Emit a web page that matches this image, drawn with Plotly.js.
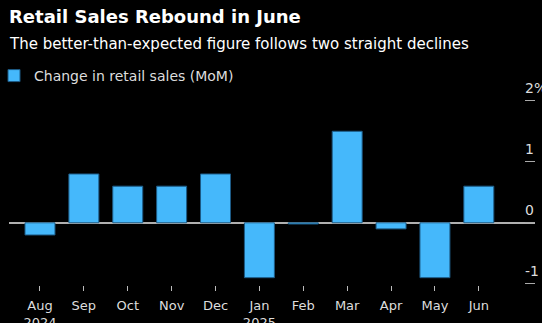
<!DOCTYPE html>
<html>
<head>
<meta charset="utf-8">
<script src="https://cdn.plot.ly/plotly-3.0.1.min.js"></script>
<style>
html,body{margin:0;padding:0;background:#000;}
#chart{width:542px;height:323px;}
</style>
</head>
<body>
<div id="chart"></div>
<script>
const months = ["Aug<br>2024","Sep","Oct","Nov","Dec","Jan<br>2025","Feb","Mar","Apr","May","Jun"];
const changeMoM = [-0.2, 0.8, 0.6, 0.6, 0.8, -0.9, -0.02, 1.5, -0.1, -0.9, 0.6];
const yTickVals = [-1, 0, 1, 2];
const yTickText = ["-1", "0", "1", "2%"];

const FONT = "DejaVu Sans, Verdana, sans-serif";
const trace = {
  type: "bar",
  x: months.map((m, i) => i),
  y: changeMoM,
  name: "Change in retail sales (MoM)",
  marker: {color: "#45b8fb", line: {color: "#1d5a85", width: 1}},
  hoverinfo: "skip"
};

const TOP = 99, PLOT_H = 186;
const layout = {
  width: 542, height: 323,
  paper_bgcolor: "#000", plot_bgcolor: "#000",
  margin: {l: 9, r: 7, t: TOP, b: 323 - TOP - PLOT_H},
  bargap: 0.317,
  font: {family: FONT, color: "#dddddd", size: 13},
  title: {
    text: "<b>Retail Sales Rebound in June</b>",
    font: {family: FONT, size: 18, color: "#ffffff"},
    x: 9/542, xanchor: "left", xref: "container",
    y: 1 - 10/323, yanchor: "top", yref: "container"
  },
  annotations: [{
    text: "The better-than-expected figure follows two straight declines",
    xref: "paper", yref: "paper", showarrow: false,
    x: -2/526, xanchor: "left",
    y: 1 + (TOP - 33)/PLOT_H, yanchor: "top",
    font: {family: FONT, size: 15, color: "#ffffff"}
  }],
  showlegend: true,
  legend: {
    orientation: "h", xref: "container", yref: "container",
    x: 0, xanchor: "left", y: 1 - 60/323, yanchor: "top",
    indentation: -6,
    font: {family: FONT, size: 14, color: "#dddddd"},
    bgcolor: "rgba(0,0,0,0)"
  },
  xaxis: {
    type: "linear",
    range: [-0.706, 11.28],
    tickvals: months.map((m, i) => i),
    ticktext: months,
    ticks: "outside", ticklen: 5, tickcolor: "#bbbbbb", tickwidth: 1,
    ticklabelstandoff: 3,
    showgrid: false, zeroline: false, showline: false,
    tickfont: {family: FONT, size: 13, color: "#dddddd"},
    fixedrange: true
  },
  yaxis: {
    range: [-1.02, -1.02 + PLOT_H/61],
    side: "right",
    tickvals: yTickVals, ticktext: yTickText,
    ticks: "inside", ticklen: 10, tickcolor: "#aaaaaa", tickwidth: 1,
    ticklabelposition: "outside",
    ticklabelshift: -13,
    ticklabelstandoff: -11,
    automargin: false,
    showgrid: false,
    zeroline: true, zerolinecolor: "#b0b0b0", zerolinewidth: 2,
    showline: false,
    tickfont: {family: FONT, size: 14, color: "#dddddd"},
    fixedrange: true
  }
};

Plotly.newPlot("chart", [trace], layout, {displayModeBar: false, staticPlot: true});
</script>
</body>
</html>
